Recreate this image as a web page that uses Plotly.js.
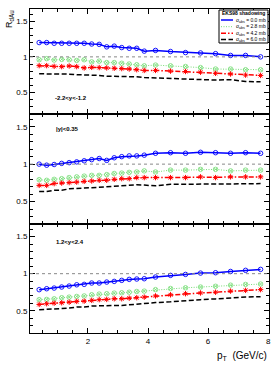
<!DOCTYPE html>
<html>
<head>
<meta charset="utf-8">
<script src="https://cdn.plot.ly/plotly-3.0.1.min.js"></script>
<style>html,body{margin:0;padding:0;background:#fff;}#chart{width:274px;height:374px;}</style>
</head>
<body>
<div id="chart"></div>
<script>
// ---- data ----
const pT = [0.375,0.625,0.875,1.125,1.375,1.625,1.875,2.125,2.375,2.625,2.875,3.125,3.375,3.625,3.875,4.25,4.75,5.25,5.75,6.25,6.75,7.25,7.75];

const rapidityLabels = ["-2.2<y<-1.2", "|y|<0.35", "1.2<y<2.4"];
const seriesNames = ["σ<sub>abs</sub> = 0.0 mb", "σ<sub>abs</sub> = 2.8 mb", "σ<sub>abs</sub> = 4.2 mb", "σ<sub>abs</sub> = 6.0 mb"];
const legendTitle = "EKS98 shadowing :";

// panel 1 : -2.2<y<-1.2
const back_s00 = [1.20,1.20,1.19,1.19,1.19,1.19,1.19,1.18,1.175,1.14,1.15,1.13,1.12,1.12,1.08,1.09,1.075,1.06,1.055,1.045,1.02,1.02,1.00];
const back_s28 = [0.96,0.975,0.955,0.965,0.96,0.95,0.96,0.93,0.94,0.92,0.92,0.91,0.90,0.89,0.875,0.885,0.875,0.865,0.85,0.83,0.83,0.82,0.82];
const back_s42 = [0.877,0.877,0.867,0.863,0.872,0.863,0.845,0.853,0.85,0.845,0.84,0.836,0.83,0.82,0.81,0.81,0.80,0.795,0.785,0.77,0.76,0.745,0.74];
const back_s60 = [0.763,0.763,0.758,0.758,0.758,0.75,0.75,0.75,0.74,0.73,0.73,0.72,0.72,0.72,0.71,0.705,0.70,0.695,0.69,0.675,0.68,0.655,0.65];

// panel 2 : |y|<0.35
const mid_s00 = [1.0,0.986,0.995,1.01,1.02,1.03,1.045,1.06,1.075,1.05,1.085,1.10,1.11,1.11,1.12,1.145,1.153,1.145,1.158,1.153,1.145,1.153,1.145];
const mid_s28 = [0.793,0.784,0.797,0.806,0.82,0.83,0.84,0.85,0.85,0.86,0.875,0.88,0.89,0.895,0.91,0.895,0.92,0.92,0.93,0.93,0.91,0.92,0.92];
const mid_s42 = [0.716,0.716,0.74,0.747,0.753,0.76,0.77,0.775,0.784,0.784,0.797,0.806,0.806,0.82,0.82,0.82,0.82,0.82,0.83,0.82,0.83,0.83,0.83];
const mid_s60 = [0.635,0.635,0.65,0.65,0.67,0.67,0.68,0.685,0.69,0.70,0.705,0.715,0.715,0.725,0.72,0.71,0.73,0.735,0.735,0.735,0.735,0.735,0.74];

// panel 3 : 1.2<y<2.4
const fwd_s00 = [0.784,0.797,0.806,0.82,0.833,0.85,0.856,0.874,0.874,0.887,0.896,0.91,0.923,0.928,0.932,0.955,0.977,0.99,1.008,1.013,1.03,1.045,1.058];
const fwd_s28 = [0.65,0.653,0.662,0.676,0.684,0.693,0.70,0.716,0.725,0.73,0.738,0.743,0.75,0.76,0.765,0.785,0.80,0.81,0.82,0.83,0.845,0.855,0.86];
const fwd_s42 = [0.585,0.595,0.603,0.608,0.616,0.626,0.63,0.64,0.65,0.653,0.662,0.662,0.67,0.676,0.684,0.70,0.715,0.73,0.74,0.75,0.765,0.775,0.785];
const fwd_s60 = [0.514,0.518,0.527,0.536,0.536,0.55,0.55,0.563,0.568,0.568,0.572,0.572,0.58,0.595,0.603,0.61,0.62,0.64,0.65,0.66,0.675,0.685,0.69];

const xTickVals = [2,4,6,8];
const yTickVals = [0.5,1,1.5];

// ---- styles ----
const W = 274, H = 374;
const M = {l:30, r:5, t:9, b:41};
const PW = W - M.l - M.r, PH = H - M.t - M.b;
const px2x = p => (p - M.l) / PW;
const py2y = p => (H - M.b - p) / PH;

const styles = [
  {color:'#0000ff', dash:'solid', width:1.5, mode:'lines+markers', symbol:'circle-open', size:4.5, mlw:0.9},
  {color:'#77dd77', dash:'1px,1.5px', width:1, mode:'lines+markers', symbol:'circle-x-open', size:4.5, mlw:0.8},
  {color:'#ff0000', dash:'5px,2px,1.5px,2px', width:1.5, mode:'lines+markers', symbol:'asterisk-open', size:4.5, mlw:1},
  {color:'#000000', dash:'5px,2.5px', width:1.5, mode:'lines', symbol:'circle', size:1, mlw:0}
];

const panels = [
  [back_s00, back_s28, back_s42, back_s60],
  [mid_s00, mid_s28, mid_s42, mid_s60],
  [fwd_s00, fwd_s28, fwd_s42, fwd_s60]
];

// pixel boundaries of the three pads (top, bottom)
const padPx = [[9,114],[114,224],[224,333]];

const traces = [];
panels.forEach((series, pi) => {
  const ax = pi === 0 ? '' : String(pi + 1);
  series.forEach((vals, si) => {
    const s = styles[si];
    traces.push({
      x: pT, y: vals, type:'scatter', mode:s.mode,
      xaxis:'x' + ax, yaxis:'y' + ax,
      line:{color:s.color, dash:s.dash, width:s.width},
      marker:{symbol:s.symbol, size:s.size, color:s.color, line:{color:s.color, width:s.mlw}},
      showlegend:false, hoverinfo:'skip'
    });
  });
});

const layout = {
  width:W, height:H, margin:M,
  paper_bgcolor:'#fff', plot_bgcolor:'#fff',
  showlegend:false,
  font:{family:'Liberation Sans, Arial, sans-serif', size:8, color:'#000'},
  shapes:[], annotations:[]
};

padPx.forEach((pp, pi) => {
  const ax = pi === 0 ? '' : String(pi + 1);
  const dom = [py2y(pp[1]), py2y(pp[0])];
  layout['xaxis' + ax] = {
    domain:[0,1], anchor:'y' + ax, range:[0.07, 8.03],
    tickvals:xTickVals, ticktext:xTickVals.map(String),
    showticklabels: pi === 2,
    ticks:'inside', ticklen:5, tickwidth:1, tickcolor:'#000',
    minor:{dtick:0.5, ticks:'inside', ticklen:3, tickcolor:'#000'},
    showline:true, linecolor:'#000', linewidth:1, mirror:'ticks',
    showgrid:false, zeroline:false,
    tickfont:{size:8}
  };
  layout['yaxis' + ax] = {
    domain:dom, anchor:'x' + ax, range:[0.2, 1.67],
    tickvals:yTickVals, ticktext:['0.5','1','1.5'],
    ticks:'inside', ticklen:5, tickwidth:1, tickcolor:'#000',
    minor:{dtick:0.1, ticks:'inside', ticklen:3, tickcolor:'#000'},
    showline:true, linecolor:'#000', linewidth:1, mirror:'ticks',
    showgrid:false, zeroline:false,
    tickfont:{size:8}
  };
  // dotted reference line at 1
  layout.shapes.push({type:'line', xref:'x' + ax + ' domain', yref:'y' + ax,
    x0:0, x1:1, y0:1, y1:1, line:{color:'#888', width:1, dash:'dot'}});
});

// rapidity labels
const labPos = [[53,98],[54,129],[54,242]];
rapidityLabels.forEach((t, i) => {
  layout.annotations.push({text:'<b>' + t + '</b>', xref:'paper', yref:'paper',
    x:px2x(labPos[i][0]), y:py2y(labPos[i][1]), xanchor:'left', yanchor:'middle',
    showarrow:false, font:{size:6, color:'#000'}});
});

// axis titles
layout.annotations.push({text:'R<sub>dAu</sub>', xref:'paper', yref:'paper',
  x:px2x(9), y:py2y(19), xanchor:'center', yanchor:'middle', textangle:-90,
  showarrow:false, font:{size:9, color:'#000'}});
layout.annotations.push({text:'p<sub>T</sub>  (GeV/c)', xref:'paper', yref:'paper',
  x:px2x(269), y:py2y(356), xanchor:'right', yanchor:'middle',
  showarrow:false, font:{size:10, color:'#000'}});

// legend box
layout.shapes.push({type:'rect', xref:'paper', yref:'paper',
  x0:px2x(219), x1:px2x(268), y0:py2y(43), y1:py2y(10),
  fillcolor:'#fff', line:{color:'#000', width:1}, layer:'above'});
layout.annotations.push({text:'<b>' + legendTitle + '</b>', xref:'paper', yref:'paper',
  x:px2x(220), y:py2y(13.5), xanchor:'left', yanchor:'middle',
  showarrow:false, font:{size:5, color:'#000'}});
const legY = [20, 26.7, 33.2, 39.5];
seriesNames.forEach((n, i) => {
  const s = styles[i];
  layout.shapes.push({type:'line', xref:'paper', yref:'paper',
    x0:px2x(221), x1:px2x(233), y0:py2y(legY[i]), y1:py2y(legY[i]),
    line:{color:s.color, width:s.width, dash:s.dash}, layer:'above'});
  layout.annotations.push({text:n, xref:'paper', yref:'paper',
    x:px2x(234), y:py2y(legY[i]), xanchor:'left', yanchor:'middle',
    showarrow:false, font:{size:5, color:'#000'}});
});

Plotly.newPlot('chart', traces, layout, {staticPlot:true, displayModeBar:false});
</script>
</body>
</html>
